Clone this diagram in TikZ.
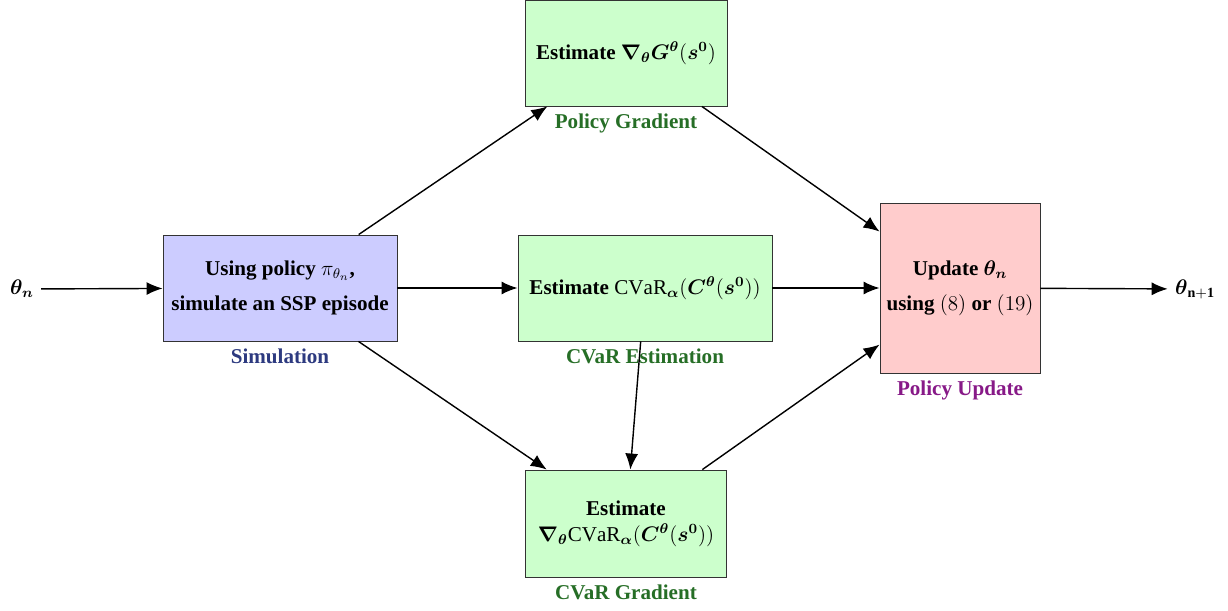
\documentclass[tikz,border=0pt]{standalone}
\usepackage{fontspec}
\setmainfont{Liberation Serif}
\usepackage{amssymb}
\usepackage{amsmath}
\usepackage{tikz}
\usetikzlibrary{arrows.meta}
\definecolor{simfill}{RGB}{204,204,255}
\definecolor{estfill}{RGB}{204,255,204}
\definecolor{updfill}{RGB}{255,204,204}
\definecolor{simtext}{RGB}{45,58,128}
\definecolor{esttext}{RGB}{38,110,38}
\definecolor{updtext}{RGB}{135,25,135}

\begin{document}
\begin{tikzpicture}[
    box/.style={draw=black!80, line width=0.5pt, minimum height=2.12cm, align=center, font=\large\bfseries, inner sep=2pt},
    tag/.style={anchor=north, font=\large\bfseries, inner sep=2pt, yshift=-2pt},
    arr/.style={thick, -{Latex[length=3.2mm, width=2.6mm]}}]
    \useasboundingbox (0, 0) rectangle (24.56, 12.2);
    \node[box, fill=simfill, minimum width=4.68cm] (sim) at (5.6, 6.44) {Using policy $\pi_{\theta_n}$,\\[6pt] simulate an SSP episode};
    \node[box, fill=estfill, minimum width=5.08cm] (est) at (12.9, 6.44) {Estimate $\mathrm{CVaR}_{\boldsymbol{\alpha}}(\boldsymbol{C^{\theta}}(\boldsymbol{s^{0}}))$};
    \node[box, fill=estfill, minimum width=4.04cm] (pg) at (12.52, 11.14) {Estimate $\boldsymbol{\nabla_{\theta} G^{\theta}}(\boldsymbol{s^{0}})$};
    \node[box, fill=estfill, minimum width=4.02cm, minimum height=2.14cm] (cg) at (12.52, 1.73) {Estimate\\[1pt] $\boldsymbol{\nabla_{\theta}}\mathrm{CVaR}_{\boldsymbol{\alpha}}(\boldsymbol{C^{\theta}}(\boldsymbol{s^{0}}))$};
    \node[box, fill=updfill, minimum width=3.2cm, minimum height=3.4cm] (upd) at (19.2, 6.44) {Update $\boldsymbol{\theta_n}$\\[6pt] using $(8)$ or $(19)$};

    \node[tag, text=simtext] (simtag) at (sim.south) {Simulation};
    \node[tag, text=esttext] (esttag) at (est.south) {CVaR Estimation};
    \node[tag, text=esttext] (pgtag) at (pg.south) {Policy Gradient};
    \node[tag, text=esttext] (cgtag) at (cg.south) {CVaR Gradient};
    \node[tag, text=updtext] (updtag) at (upd.south) {Policy Update};

    \node[font=\large, inner sep=4pt] (thn) at (0.44, 6.42) {$\boldsymbol{\theta_n}$};
    \node[font=\large, inner sep=4pt] (thnext) at (23.9, 6.42) {$\boldsymbol{\theta}_{\mathbf{n+1}}$};

    \draw[arr] (thn) -- (sim);
    \draw[arr] (sim) -- (pg);
    \draw[arr] (sim) -- (est);
    \draw[arr] (sim) -- (cg);
    \draw[arr] (est) -- (cg);
    \draw[arr] (pg) -- (upd);
    \draw[arr] (est) -- (upd);
    \draw[arr] (cg) -- (upd);
    \draw[arr] (upd) -- (thnext);
\end{tikzpicture}
\end{document}
